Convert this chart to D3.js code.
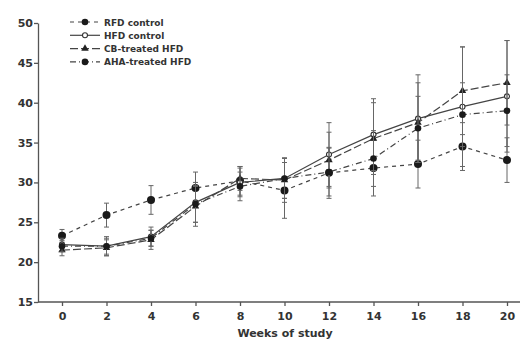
<!DOCTYPE html>
<html lang="en">
  <head>
    <meta charset="utf-8" />
    <title>Body weight</title>
    <script src="https://cdnjs.cloudflare.com/ajax/libs/d3/7.8.5/d3.min.js"></script>
    <style>
      body { margin: 0; background: #fff; }
      text { font-family: "DejaVu Sans", sans-serif; fill: #333; }
    </style>
  </head>
  <body>
    <div id="chart"></div>
    <script>
    // data (body weight, g)
    var weeks = [0, 2, 4, 6, 8, 10, 12, 14, 16, 18, 20];
    var yTicks = [15, 20, 25, 30, 35, 40, 45, 50];
    var seriesNames = ["RFD control", "HFD control", "CB-treated HFD", "AHA-treated HFD"];

    var rfdMean = [23.3, 25.9, 27.8, 29.3, 30.2, 29.0, 31.2, 31.8, 32.3, 34.5, 32.8];
    var rfdSd   = [0.8, 1.5, 1.8, 2.0, 1.8, 3.5, 3.2, 3.5, 3.0, 3.0, 2.8];
    var hfdMean = [22.2, 22.0, 23.2, 27.5, 30.0, 30.5, 33.5, 36.0, 38.0, 39.5, 40.8];
    var hfdSd   = [0.8, 1.2, 1.2, 2.5, 1.8, 2.5, 4.0, 4.5, 5.5, 7.5, 7.0];
    var cbMean  = [21.5, 21.8, 22.8, 27.0, 30.5, 30.3, 32.8, 35.5, 37.5, 41.5, 42.5];
    var cbSd    = [0.7, 1.0, 1.2, 2.5, 1.5, 2.8, 3.5, 4.5, 5.0, 5.5, 5.3];
    var ahaMean = [22.0, 22.0, 23.0, 27.3, 29.5, 30.5, 31.3, 33.0, 36.8, 38.5, 39.0];
    var ahaSd   = [0.7, 1.0, 1.0, 2.3, 1.8, 2.5, 3.0, 3.5, 4.0, 4.0, 4.5];

    var styles = [
      {mean: rfdMean, sd: rfdSd, dash: "4,4", marker: "circle", r: 4},
      {mean: hfdMean, sd: hfdSd, dash: null, marker: "open", r: 2.5},
      {mean: cbMean, sd: cbSd, dash: "8,3", marker: "triangle", r: 3},
      {mean: ahaMean, sd: ahaSd, dash: "6,3,1,3", marker: "circle", r: 3.3}
    ];

    var W = 520, H = 343;
    var svg = d3.select("#chart").append("svg")
        .attr("width", W).attr("height", H);

    var x = d3.scalePoint().domain(weeks).range([62, 507]);
    var y = d3.scaleLinear().domain([15, 50]).range([302, 23]);

    // axes
    var yAxis = svg.append("g")
        .attr("transform", "translate(38,0)")
        .call(d3.axisLeft(y).tickValues(yTicks).tickSize(4).tickSizeOuter(0));
    var xAxis = svg.append("g")
        .attr("transform", "translate(0,302)")
        .call(d3.axisBottom(x).tickSize(4).tickSizeOuter(0));
    xAxis.select(".domain").attr("d", "M38,0H520");
    svg.selectAll(".domain, .tick line").attr("stroke", "#555").attr("stroke-width", 1.3);
    svg.selectAll(".tick text")
        .style("font-size", "11px").style("font-weight", "bold").attr("fill", "#3a3a3a");
    yAxis.selectAll(".tick text").attr("x", -5);
    xAxis.selectAll(".tick text").attr("y", 10);

    svg.append("text")
        .attr("x", 285).attr("y", 337)
        .attr("text-anchor", "middle")
        .style("font-size", "11px").style("font-weight", "bold")
        .attr("fill", "#3a3a3a")
        .text("Weeks of study");

    function drawMarker(g, s, cx, cy) {
      if (s.marker === "triangle") {
        g.append("path")
          .attr("d", d3.symbol().type(d3.symbolTriangle).size(24)())
          .attr("transform", "translate(" + cx + "," + cy + ")")
          .attr("fill", "#222");
      } else if (s.marker === "open") {
        g.append("circle").attr("cx", cx).attr("cy", cy).attr("r", s.r)
          .attr("fill", "#fff").attr("stroke", "#333").attr("stroke-width", 1.1);
      } else {
        g.append("circle").attr("cx", cx).attr("cy", cy).attr("r", s.r)
          .attr("fill", "#1a1a1a");
      }
    }

    var line = d3.line().x(function(d, i) { return x(weeks[i]); }).y(function(d) { return y(d); });

    styles.forEach(function(s) {
      var g = svg.append("g");
      // error bars
      s.mean.forEach(function(m, i) {
        var cx = x(weeks[i]);
        var hi = y(m + s.sd[i]), lo = y(m - s.sd[i]);
        g.append("line").attr("x1", cx).attr("x2", cx).attr("y1", hi).attr("y2", lo)
          .attr("stroke", "#666").attr("stroke-width", 1);
        [hi, lo].forEach(function(yy) {
          g.append("line").attr("x1", cx - 2.5).attr("x2", cx + 2.5).attr("y1", yy).attr("y2", yy)
            .attr("stroke", "#666").attr("stroke-width", 1);
        });
      });
      g.append("path").datum(s.mean)
        .attr("d", line)
        .attr("fill", "none")
        .attr("stroke", "#444")
        .attr("stroke-width", 1.2)
        .attr("stroke-dasharray", s.dash);
      s.mean.forEach(function(m, i) { drawMarker(g, s, x(weeks[i]), y(m)); });
    });

    // legend
    var leg = svg.append("g");
    seriesNames.forEach(function(name, i) {
      var s = styles[i];
      var ly = 22 + i * 13.3;
      leg.append("line").attr("x1", 70).attr("x2", 100).attr("y1", ly).attr("y2", ly)
        .attr("stroke", "#444").attr("stroke-width", 1.2)
        .attr("stroke-dasharray", s.dash);
      drawMarker(leg, {marker: s.marker, r: Math.min(s.r, 3.3)}, 85, ly);
      leg.append("text").attr("x", 104).attr("y", ly + 3.5)
        .style("font-size", "9px").style("font-weight", "bold")
        .attr("fill", "#666")
        .text(name);
    });
    </script>
  </body>
</html>
